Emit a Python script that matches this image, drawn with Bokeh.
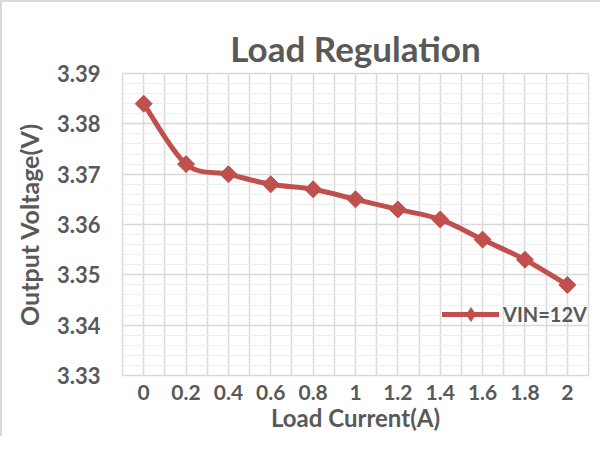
import math
from bokeh.plotting import figure
from bokeh.models import Range1d, FixedTicker, PrintfTickFormatter, Legend, LegendItem
from bokeh.embed import file_html
from bokeh.resources import INLINE

# ---- data ----
current_labels = ["0", "0.2", "0.4", "0.6", "0.8", "1", "1.2", "1.4", "1.6", "1.8", "2"]
vout = [3.384, 3.372, 3.370, 3.368, 3.367, 3.365, 3.363, 3.361, 3.357, 3.353, 3.348]
series_name = "VIN=12V"
y_ticks = [3.33, 3.34, 3.35, 3.36, 3.37, 3.38, 3.39]

FONT = "Lato"
GRAY = "#595959"
RED = "#C0504D"

idx = list(range(len(current_labels)))

p = figure(width=600, height=436, output_backend="svg", toolbar_location=None,
           x_range=Range1d(-0.5, len(idx) - 0.5), y_range=Range1d(y_ticks[0], y_ticks[-1]),
           min_border_left=120, min_border_right=14, min_border_top=71, min_border_bottom=63)
p.styles = {"border-left": "2px solid #d9d9d9", "border-top": "2px solid #d9d9d9"}

p.title.text = "Load Regulation"
p.title.text_font = FONT
p.title.text_font_style = "bold"
p.title.text_font_size = "35px"
p.title.text_color = GRAY
p.title.align = "center"
p.title.offset = 13

p.outline_line_color = "#d9d9d9"
p.outline_line_width = 1.5

# x axis
xt = FixedTicker(ticks=idx, minor_ticks=[i - 0.5 for i in idx] + [idx[-1] + 0.5])
p.xaxis.ticker = xt
p.xaxis.major_label_overrides = {i: lab for i, lab in zip(idx, current_labels)}
p.xaxis.axis_label = "Load Current(A)"
# y axis
step = 0.002
n_minor = int(round((y_ticks[-1] - y_ticks[0]) / step))
yt = FixedTicker(ticks=y_ticks, minor_ticks=[y_ticks[0] + k * step for k in range(n_minor + 1)])
p.yaxis.ticker = yt
p.yaxis.formatter = PrintfTickFormatter(format="%.2f")
p.yaxis.axis_label = "Output Voltage(V)"

for ax in (p.xaxis[0], p.yaxis[0]):
    ax.axis_line_color = None
    ax.major_tick_line_color = None
    ax.minor_tick_line_color = None
    ax.major_tick_out = 0
    ax.minor_tick_out = 0
    ax.major_label_text_font = FONT
    ax.major_label_text_font_style = "bold"
    ax.major_label_text_color = GRAY
    ax.axis_label_text_font = FONT
    ax.axis_label_text_font_style = "bold"
    ax.axis_label_text_color = GRAY
p.xaxis.major_label_text_font_size = "21px"
p.xaxis.axis_label_text_font_size = "24px"
p.yaxis.major_label_text_font_size = "22px"
p.yaxis.axis_label_text_font_size = "25px"
p.xaxis.major_label_standoff = 9
p.xaxis.axis_label_standoff = 0
p.yaxis.major_label_standoff = 22
p.yaxis.axis_label_standoff = 10

p.xgrid.grid_line_color = "#d9d9d9"
p.xgrid.grid_line_width = 1.5
p.xgrid.minor_grid_line_color = "#d9d9d9"
p.xgrid.minor_grid_line_width = 1.5
p.ygrid.grid_line_color = "#d9d9d9"
p.ygrid.grid_line_width = 1.5
p.ygrid.minor_grid_line_color = "#eeeeee"
p.ygrid.minor_grid_line_width = 1.2

# smoothed line (Catmull-Rom -> cubic Bezier), built from data
n = len(idx)
x0s, y0s, x1s, y1s, cx0s, cy0s, cx1s, cy1s = [], [], [], [], [], [], [], []
for i in range(n - 1):
    im1 = max(i - 1, 0)
    ip2 = min(i + 2, n - 1)
    x0s.append(idx[i]); y0s.append(vout[i])
    x1s.append(idx[i + 1]); y1s.append(vout[i + 1])
    cx0s.append(idx[i] + (idx[i + 1] - idx[im1]) / 6.0)
    cy0s.append(vout[i] + (vout[i + 1] - vout[im1]) / 6.0)
    cx1s.append(idx[i + 1] - (idx[ip2] - idx[i]) / 6.0)
    cy1s.append(vout[i + 1] - (vout[ip2] - vout[i]) / 6.0)

bz = p.bezier(x0=x0s, y0=y0s, x1=x1s, y1=y1s, cx0=cx0s, cy0=cy0s, cx1=cx1s, cy1=cy1s,
              line_color=RED, line_width=5, line_cap="round")
# diamond markers for the legend (fully covered by the rotated squares below)
dm = p.scatter(idx, vout, marker="diamond", size=16, fill_color=RED, line_color=None)
sc = p.scatter(idx, vout, marker="square", angle=math.pi / 4, size=12,
               fill_color=RED, line_color=RED)

legend = Legend(items=[LegendItem(label=series_name, renderers=[bz, dm])],
                location=(320, 42), background_fill_alpha=0, border_line_color=None,
                glyph_width=57, glyph_height=38, label_standoff=4, padding=0, margin=0,
                label_text_font=FONT, label_text_font_style="bold",
                label_text_font_size="20px", label_text_color=GRAY)
p.add_layout(legend, "center")

open("out.html", "w").write(file_html(p, INLINE))
